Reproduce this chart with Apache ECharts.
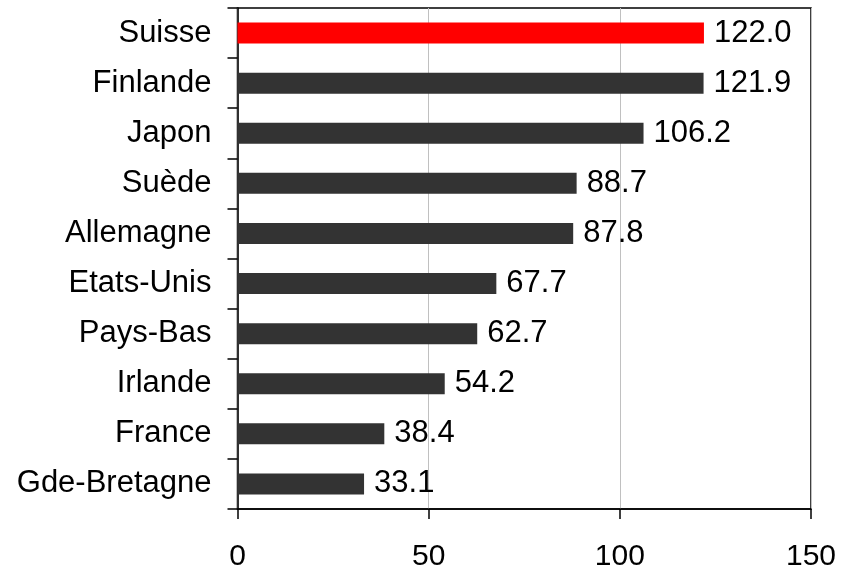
<!DOCTYPE html>
<html>
<head>
<meta charset="utf-8">
<script src="https://cdn.jsdelivr.net/npm/echarts@6/dist/echarts.min.js"></script>
<style>
	html, body { margin: 0; padding: 0; background: #fff; }
	#chart { width: 843px; height: 572px; }
</style>
</head>
<body>
<div id="chart"></div>
<script>
	// pays, du haut vers le bas
	const countries = ['Suisse', 'Finlande', 'Japon', 'Suède', 'Allemagne', 'Etats-Unis', 'Pays-Bas', 'Irlande', 'France', 'Gde-Bretagne'];
	const values = [122.0, 121.9, 106.2, 88.7, 87.8, 67.7, 62.7, 54.2, 38.4, 33.1];
	const highlight = 'Suisse';

	const font = 'Arial, "Liberation Sans", sans-serif';

	let chart = echarts.init(document.getElementById('chart'));
	const option = {
		animation: false,
		grid: {
			left: 237.5,
			right: 32,
			top: 8,
			bottom: 63,
			show: true,
			borderColor: '#000',
			borderWidth: 1.5,
			containLabel: false
		},
		xAxis: {
			type: 'value',
			min: 0,
			max: 150,
			interval: 50,
			axisLine: { show: true, lineStyle: { color: '#000', width: 1.5 } },
			axisTick: { show: true, length: 10, lineStyle: { color: '#000', width: 1.5 } },
			axisLabel: { color: '#000', fontSize: 30, fontFamily: font, margin: 33 },
			splitLine: { show: true, lineStyle: { color: '#c0c0c0', width: 1 } }
		},
		yAxis: {
			type: 'category',
			inverse: true,
			data: countries,
			axisLine: { show: true, lineStyle: { color: '#000', width: 1.5 } },
			axisTick: { show: true, length: 10, lineStyle: { color: '#000', width: 1.5 } },
			axisLabel: { color: '#000', fontSize: 31, fontFamily: font, margin: 26 }
		},
		series: [{
			type: 'bar',
			barWidth: 21,
			data: values.map((v, i) => ({
				value: v,
				itemStyle: { color: countries[i] === highlight ? '#ff0000' : '#333333' }
			})),
			label: {
				show: true,
				position: 'right',
				distance: 10,
				color: '#000',
				fontSize: 31,
				fontFamily: font,
				formatter: p => p.value.toFixed(1)
			}
		}]
	};
	chart.setOption(option);
</script>
</body>
</html>
